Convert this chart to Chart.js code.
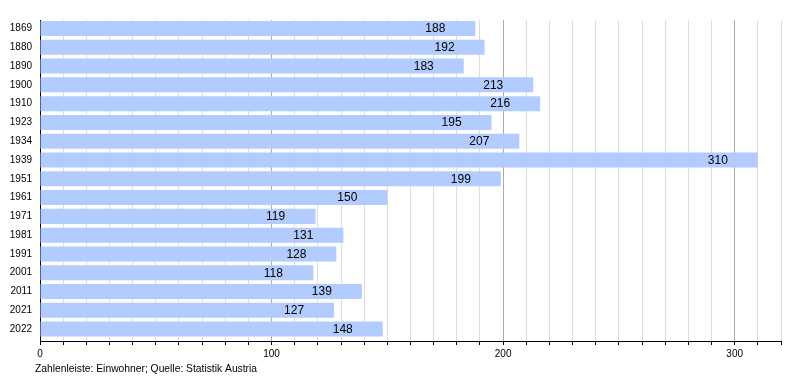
<!DOCTYPE html>
<html>
<head>
<meta charset="utf-8">
<script src="https://cdn.jsdelivr.net/npm/chart.js@4.4.1/dist/chart.umd.min.js"></script>
<style>
html,body{margin:0;padding:0;background:#fff;}
canvas{display:block;}
</style>
</head>
<body>
<canvas id="c" width="800" height="380"></canvas>
<script>
const years = ['1869','1880','1890','1900','1910','1923','1934','1939','1951','1961','1971','1981','1991','2001','2011','2021','2022'];
const population = [188,192,183,213,216,195,207,310,199,150,119,131,128,118,139,127,148];
const axisMax = 320;
const axisStep = 10;
const majorStep = 100;
const footnote = 'Zahlenleiste: Einwohner; Quelle: Statistik Austria';

const FONT = '"Liberation Sans", Arial, sans-serif';

const valueLabels = {
  id: 'valueLabels',
  afterDatasetsDraw(chart) {
    const ctx = chart.ctx;
    const meta = chart.getDatasetMeta(0);
    ctx.save();
    ctx.font = '12px ' + FONT;
    ctx.fillStyle = '#000';
    ctx.textAlign = 'center';
    ctx.textBaseline = 'middle';
    meta.data.forEach((bar, i) => {
      ctx.fillText(String(population[i]), bar.x - 40, bar.y + 0.5);
    });
    ctx.restore();
  }
};

const footnotePlugin = {
  id: 'footnote',
  afterDraw(chart) {
    const ctx = chart.ctx;
    ctx.save();
    ctx.font = '10.3px ' + FONT;
    ctx.fillStyle = '#000';
    ctx.textAlign = 'left';
    ctx.textBaseline = 'middle';
    ctx.fillText(footnote, 35, 369);
    ctx.restore();
  }
};

const shrinkY = {
  id: 'shrinkY',
  afterLayout(chart) {
    const y = chart.scales.y;
    y.top = 19.1;
    y.bottom = 338.5;
    y.height = y.bottom - y.top;
    y.configure();
  }
};

new Chart(document.getElementById('c'), {
  type: 'bar',
  data: {
    labels: years,
    datasets: [{
      data: population,
      backgroundColor: 'rgb(178,204,255)',
      borderWidth: 0,
      barPercentage: 0.8,
      categoryPercentage: 1.0
    }]
  },
  options: {
    indexAxis: 'y',
    responsive: false,
    animation: false,
    events: [],
    layout: { padding: { top: 20, right: 19, bottom: 0, left: 0 } },
    plugins: { legend: { display: false }, tooltip: { enabled: false } },
    scales: {
      x: {
        type: 'linear',
        min: 0,
        max: axisMax,
        afterFit(scale) { scale.height = 39; },
        border: { display: true, color: '#000', width: 1 },
        grid: {
          display: true,
          drawOnChartArea: true,
          drawTicks: true,
          tickLength: 4,
          tickColor: '#000',
          lineWidth: 1,
          color(ctx) {
            const v = ctx.tick ? ctx.tick.value : 0;
            if (v === 0) return '#000';
            return v % majorStep === 0 ? '#aaaaaa' : '#dddddd';
          }
        },
        ticks: {
          stepSize: axisStep,
          autoSkip: false,
          maxRotation: 0,
          padding: 3,
          color: '#000',
          font: { family: FONT, size: 10 },
          callback(v) { return v % majorStep === 0 ? String(v) : ''; }
        }
      },
      y: {
        type: 'category',
        afterFit(scale) { scale.width = 40; },
        border: { display: false },
        grid: { display: false, drawTicks: false },
        ticks: {
          padding: 8,
          color: '#000',
          font: { family: FONT, size: 10 }
        }
      }
    }
  },
  plugins: [shrinkY, valueLabels, footnotePlugin]
});
</script>
</body>
</html>
